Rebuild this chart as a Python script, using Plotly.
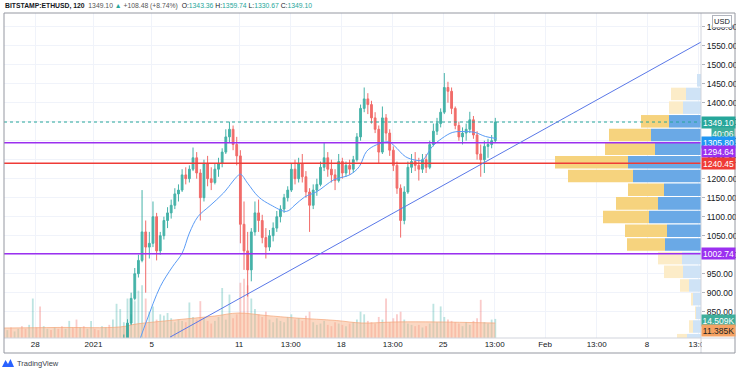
import pandas as pd
import plotly.graph_objects as go

# ---------------- data ----------------
symbol = "BITSTAMP:ETHUSD, 120"
hdr_last, hdr_chg, hdr_pct = "1349.10", "+108.48", "(+8.74%)"
hdr_o, hdr_h, hdr_l, hdr_c = "1343.36", "1359.74", "1330.67", "1349.10"

candle_start = "2021-01-02 20:00"   # 6h candles
c_open = [740, 755, 780, 820, 885, 950, 985, 1060, 1020, 1030, 1100, 1010, 1050, 1090, 1110, 1130,
          1160, 1170, 1210, 1200, 1225, 1255, 1215, 1150, 1240, 1200, 1190, 1225, 1240, 1270, 1310,
          1330, 1290, 1260, 1080, 1010, 960, 1060, 1110, 1090, 1045, 1020, 1050, 1070, 1100, 1120,
          1150, 1170, 1225, 1200, 1240, 1205, 1165, 1130, 1170, 1185, 1230, 1255, 1225, 1210, 1195,
          1245, 1215, 1235, 1225, 1250, 1310, 1385, 1410, 1395, 1360, 1330, 1270, 1360, 1320, 1275,
          1235, 1175, 1090, 1165, 1230, 1245, 1235, 1225, 1250, 1230, 1290, 1325, 1345, 1375, 1440,
          1430, 1385, 1340, 1310, 1320, 1330, 1355, 1315, 1265, 1250, 1285, 1290, 1300]
c_high = [765, 790, 830, 900, 965, 1000, 1170, 1090, 1060, 1140, 1110, 1060, 1100, 1125, 1145, 1175,
          1185, 1225, 1230, 1235, 1282, 1270, 1225, 1250, 1260, 1230, 1240, 1255, 1280, 1330, 1350,
          1340, 1310, 1275, 1140, 1060, 1070, 1140, 1145, 1105, 1070, 1065, 1085, 1115, 1130, 1160,
          1180, 1240, 1250, 1255, 1265, 1220, 1175, 1185, 1200, 1245, 1295, 1270, 1250, 1225, 1265,
          1255, 1245, 1250, 1260, 1320, 1395, 1440, 1425, 1405, 1375, 1340, 1390, 1370, 1330, 1285,
          1245, 1185, 1180, 1245, 1265, 1270, 1255, 1265, 1265, 1300, 1345, 1360, 1385, 1478, 1455,
          1440, 1390, 1350, 1335, 1345, 1376, 1365, 1325, 1290, 1300, 1305, 1315, 1360]
c_low = [730, 750, 775, 815, 880, 940, 980, 900, 990, 1020, 985, 1000, 1040, 1070, 1095, 1120,
         1140, 1165, 1185, 1190, 1220, 1200, 1090, 1140, 1180, 1170, 1185, 1205, 1230, 1265, 1295,
         1275, 1235, 1030, 960, 890, 930, 1050, 1060, 1030, 990, 1010, 1035, 1060, 1085, 1110,
         1140, 1165, 1185, 1190, 1190, 1150, 1060, 1120, 1155, 1180, 1220, 1205, 1190, 1170, 1190,
         1200, 1205, 1210, 1215, 1245, 1300, 1375, 1370, 1345, 1320, 1240, 1265, 1300, 1260, 1220,
         1160, 1045, 1080, 1160, 1215, 1220, 1195, 1215, 1215, 1225, 1285, 1315, 1335, 1370, 1400,
         1370, 1330, 1300, 1290, 1300, 1320, 1305, 1250, 1205, 1215, 1255, 1280, 1295]
c_close = [755, 780, 820, 885, 950, 985, 1060, 1020, 1030, 1100, 1010, 1050, 1090, 1110, 1130, 1160,
           1170, 1210, 1200, 1225, 1255, 1215, 1150, 1240, 1200, 1190, 1225, 1240, 1270, 1310, 1330,
           1290, 1260, 1080, 1010, 960, 1060, 1110, 1090, 1045, 1020, 1050, 1070, 1100, 1120, 1150,
           1170, 1225, 1200, 1240, 1205, 1165, 1130, 1170, 1185, 1230, 1255, 1225, 1210, 1195, 1245,
           1215, 1235, 1225, 1250, 1310, 1385, 1410, 1395, 1360, 1330, 1270, 1360, 1320, 1275, 1235,
           1175, 1090, 1165, 1230, 1245, 1235, 1225, 1250, 1230, 1290, 1325, 1345, 1375, 1440, 1430,
           1385, 1340, 1310, 1320, 1330, 1355, 1315, 1265, 1250, 1285, 1290, 1300, 1349.10]

vol_start = "2020-12-26 02:00"      # 6h volume bins, in K
volume_k = [6, 8, 5, 7, 9, 7, 10, 30, 8, 24, 9, 7, 6, 8, 7, 9, 7, 13, 8, 14, 8, 9, 7, 13,
            7, 6, 9, 8, 10, 14, 26, 22, 12, 30, 18, 28, 36, 40, 30, 20, 24, 14, 18, 17,
            19, 15, 12, 14, 13, 12, 27, 16, 14, 28, 15, 13, 11, 13, 16, 38, 14, 33, 15, 18,
            42, 45, 40, 30, 22, 18, 16, 20, 14, 12, 15, 13, 12, 16, 18, 14, 15, 13, 17, 20,
            12, 10, 11, 13, 10, 9, 12, 11, 10, 9, 11, 12, 14, 20, 18, 13, 12, 11, 16, 14,
            30, 12, 15, 18, 20, 14, 11, 10, 9, 10, 8, 9, 11, 26, 12, 24, 16, 14, 13, 12,
            11, 9, 12, 10, 13, 15, 29, 12, 11, 14, 14.509]
pre_dir = "uduudduudduududduudduduudduuduu"   # bins before the first visible candle

vol_ma_time = ["2020-12-25 20:00", "2020-12-29 12:00", "2021-01-02 20:00", "2021-01-03 22:00",
               "2021-01-06 14:00", "2021-01-09 08:00", "2021-01-10 22:00", "2021-01-12 20:00",
               "2021-01-14 22:00", "2021-01-17 16:00", "2021-01-19 10:00", "2021-01-21 18:00",
               "2021-01-24 12:00", "2021-01-28 14:00"]
vol_ma_k = [7.6, 8.0, 8.4, 10.6, 13.7, 16.7, 19.0, 17.1, 15.2, 13.3, 11.4, 12.2, 12.2, 11.385]

ma_time = ["2021-01-04 04:00", "2021-01-04 16:00", "2021-01-05 14:00", "2021-01-06 10:00",
           "2021-01-07 02:00", "2021-01-07 14:00", "2021-01-08 04:00", "2021-01-09 00:00",
           "2021-01-09 22:00", "2021-01-10 20:00", "2021-01-11 02:00", "2021-01-11 14:00",
           "2021-01-12 08:00", "2021-01-13 04:00", "2021-01-14 06:00", "2021-01-14 20:00",
           "2021-01-15 12:00", "2021-01-16 08:00", "2021-01-17 12:00", "2021-01-18 14:00",
           "2021-01-19 06:00", "2021-01-19 18:00", "2021-01-20 10:00", "2021-01-21 06:00",
           "2021-01-21 16:00", "2021-01-22 10:00", "2021-01-23 02:00", "2021-01-23 14:00",
           "2021-01-24 06:00", "2021-01-24 22:00", "2021-01-25 16:00", "2021-01-26 12:00",
           "2021-01-27 04:00", "2021-01-27 22:00", "2021-01-28 16:00"]
ma_val = [775, 828, 916, 968, 1004, 1057, 1100, 1129, 1162, 1205, 1212, 1188, 1152, 1131, 1114,
          1131, 1152, 1166, 1197, 1210, 1232, 1272, 1289, 1297, 1286, 1258, 1249, 1249, 1284,
          1306, 1322, 1324, 1322, 1311, 1305.80]

# volume profile (visible range), rows of 36 USD
vp_low = [757, 793, 829, 865, 901, 937, 973, 1009, 1045, 1081, 1117, 1153, 1189, 1225, 1261,
          1297, 1333, 1369, 1405, 1441]
vp_up = [14, 8, 5, 8, 12, 18, 19, 36, 34, 52, 43, 37, 68, 73, 46, 50, 32, 18, 15, 4]
vp_down = [10, 4, 0.5, 1.6, 9, 19, 24, 38, 42, 46, 42, 36, 65, 73, 50, 42, 28, 14, 15, 0]
vp_value_area = (1009, 1369)
vp_step = 36

level_purple = [1294.64, 1002.74]
level_red = 1240.45
last_price = 1349.10
ma_last = 1305.80
countdown = "40:06"
trend_t = ["2021-01-06 06:00", "2021-02-11 18:00"]
trend_p = [783.0, 1560.5]

x_tick_vals = ["2020-12-28", "2021-01-01", "2021-01-05", "2021-01-11", "2021-01-14 13:00",
               "2021-01-18", "2021-01-21 13:00", "2021-01-25", "2021-01-28 13:00", "2021-02-01",
               "2021-02-04 13:00", "2021-02-08", "2021-02-11 13:00"]
x_tick_text = ["28", "2021", "5", "11", "13:00", "18", "13:00", "25", "13:00", "Feb", "13:00",
               "8", "13:00"]
y_ticks = [850, 900, 950, 1000, 1050, 1100, 1150, 1200, 1250, 1300, 1350, 1400, 1450, 1500,
           1550, 1600]

# ---------------- layout helpers ----------------
W, H = 736, 372
L, R, T, B = 4, 701, 13, 338
def px(x): return (x - L) / (R - L)
def py(y): return (B - y) / (B - T)

UP, DN = "#26a69a", "#ef5350"
FONT = "Liberation Sans, Arial, sans-serif"

c_time = pd.date_range(candle_start, periods=len(c_close), freq="6h")
v_time = pd.date_range(vol_start, periods=len(volume_k), freq="6h")
v_dir = list(pre_dir) + ["u" if c >= o else "d" for o, c in zip(c_open, c_close)]
v_col = ["rgba(38,166,154,0.3)" if d == "u" else "rgba(239,83,80,0.3)" for d in v_dir]

fig = go.Figure()
fig.add_trace(go.Bar(x=v_time, y=volume_k, marker=dict(color=v_col, line=dict(width=0)),
                     width=6 * 3600 * 1000 * 0.5, xaxis="x", yaxis="y", hoverinfo="skip"))
fig.add_trace(go.Scatter(x=vol_ma_time, y=vol_ma_k, mode="lines", line=dict(color="rgba(245,165,120,0.7)", width=1, shape="spline"),
                         fill="tozeroy", fillcolor="rgba(247,178,135,0.5)", xaxis="x", yaxis="y", hoverinfo="skip"))
fig.add_trace(go.Candlestick(x=c_time, open=c_open, high=c_high, low=c_low, close=c_close,
                             xaxis="x", yaxis="y2", whiskerwidth=0, opacity=0.85,
                             increasing=dict(line=dict(color=UP, width=1), fillcolor=UP),
                             decreasing=dict(line=dict(color=DN, width=1), fillcolor=DN)))
fig.add_trace(go.Scatter(x=ma_time, y=ma_val, mode="lines", line=dict(color="#5b9cf6", width=1, shape="spline"),
                         xaxis="x", yaxis="y2"))

vp_mid = [v + vp_step / 2 for v in vp_low]
in_va = [vp_value_area[0] <= v < vp_value_area[1] for v in vp_low]
fig.add_trace(go.Bar(orientation="h", y=vp_mid, x=vp_up, base=[0] * len(vp_up), width=vp_step - 3,
                     marker=dict(color=["#6aa9e6" if f else "#cfe3f6" for f in in_va], line=dict(width=0)),
                     xaxis="x2", yaxis="y2", hoverinfo="skip"))
fig.add_trace(go.Bar(orientation="h", y=vp_mid, x=vp_down, base=vp_up, width=vp_step - 3,
                     marker=dict(color=["#f6d37e" if f else "#fcecc8" for f in in_va], line=dict(width=0)),
                     xaxis="x2", yaxis="y2", hoverinfo="skip"))

shapes = []
for lv in level_purple:
    shapes.append(dict(type="line", xref="paper", yref="y2", x0=0, x1=1, y0=lv, y1=lv,
                       line=dict(color="#9b30f0", width=1.5)))
shapes.append(dict(type="line", xref="paper", yref="y2", x0=0, x1=1, y0=level_red, y1=level_red,
                   line=dict(color="#ef3b36", width=1.5)))
shapes.append(dict(type="line", xref="paper", yref="y2", x0=0, x1=1, y0=last_price, y1=last_price,
                   line=dict(color=UP, width=1, dash="dot")))
shapes.append(dict(type="line", xref="x", yref="y2", x0=trend_t[0], y0=trend_p[0], x1=trend_t[1], y1=trend_p[1],
                   line=dict(color="#5a78e8", width=1)))
# cover clipped last time label, then frame
shapes.append(dict(type="rect", xref="paper", yref="paper", x0=px(702), x1=px(734), y0=py(352), y1=py(339),
                   fillcolor="white", line=dict(width=0), layer="above"))
shapes.append(dict(type="line", xref="paper", yref="paper", x0=px(L), x1=px(735), y0=0, y1=0,
                   line=dict(color="#d1d4dc", width=1), layer="above"))
shapes.append(dict(type="line", xref="paper", yref="paper", x0=1, x1=1, y0=py(353), y1=1,
                   line=dict(color="#d1d4dc", width=1), layer="above"))
shapes.append(dict(type="rect", xref="paper", yref="paper", x0=px(4), x1=px(735), y0=py(353), y1=py(13),
                   line=dict(color="#9598a1", width=1), layer="above"))
shapes.append(dict(type="path", xref="paper", yref="paper",
                   path=f"M {px(2)},{py(367)} L {px(5.5)},{py(360)} L {px(8)},{py(364)} L {px(10.5)},{py(359)} L {px(14)},{py(367)} Z",
                   fillcolor="#2962ff", line=dict(width=0), layer="above"))

def tag(text, y, bg, yref="y2", yshift=0, x=1.0, xanchor="left", width=33, color="white"):
    return dict(text=text, xref="paper", x=x, xanchor=xanchor, yref=yref, y=y, yanchor="middle",
                yshift=yshift, showarrow=False, bgcolor=bg, width=width, height=11, borderpad=0,
                font=dict(family=FONT, size=8.5, color=color), align="center")

g = UP
header = (f"<b>{symbol}</b>  <span style='color:#555'>{hdr_last}</span> "
          f"<span style='color:{g}'>▲</span> <span style='color:#555'>{hdr_chg} {hdr_pct}</span>  "
          f"O:<span style='color:{g}'>{hdr_o}</span> H:<span style='color:{g}'>{hdr_h}</span> "
          f"L:<span style='color:{g}'>{hdr_l}</span> C:<span style='color:{g}'>{hdr_c}</span>")
annotations = [
    dict(text=header, xref="paper", yref="paper", x=px(3), y=py(5.5), xanchor="left", yanchor="middle",
         showarrow=False, font=dict(family=FONT, size=6.8, color="#131722")),
    dict(text="TradingView", xref="paper", yref="paper", x=px(15), y=py(363.5), xanchor="left",
         yanchor="middle", showarrow=False, font=dict(family=FONT, size=7.5, color="#3a3e4a")),
    dict(text="USD", xref="paper", yref="paper", x=px(722), y=py(22), xanchor="center", yanchor="middle",
         showarrow=False, bgcolor="white", bordercolor="#b2b5be", borderwidth=1, borderpad=1,
         font=dict(family=FONT, size=7.5, color="#131722")),
    tag(f"{last_price:.2f}", last_price, UP),
    tag(countdown, last_price, "#3fae9b", yshift=-11, x=px(735), xanchor="right", width=22),
    tag(f"{ma_last:.2f}", ma_last, "#2196f3", yshift=-4),
    tag(f"{level_purple[0]:.2f}", level_purple[0], "#9b30f0", yshift=-9),
    tag(f"{level_red:.2f}", level_red, "#ef3b36"),
    tag(f"{level_purple[1]:.2f}", level_purple[1], "#9b30f0"),
    tag(f"{volume_k[-1]:.3f}K", volume_k[-1], "#3fae9b", yref="y", yshift=-2),
    tag(f"{vol_ma_k[-1]:.3f}K", vol_ma_k[-1], "#f5a263", yref="y", yshift=-7, color="#222"),
]

x_range = ["2020-12-25 20:33", "2021-02-11 16:55"]
fig.update_layout(
    width=W, height=H, margin=dict(l=L, r=W - R, t=T, b=H - B, autoexpand=False),
    paper_bgcolor="white", plot_bgcolor="white", showlegend=False, barmode="overlay",
    font=dict(family=FONT, size=8, color="#131722"),
    xaxis=dict(type="date", range=x_range, tickvals=x_tick_vals, ticktext=x_tick_text,
               showgrid=True, gridcolor="#f0f3fa", gridwidth=1, zeroline=False, showline=False,
               ticks="", tickfont=dict(size=8, color="#131722"), rangeslider=dict(visible=False),
               fixedrange=True, automargin=False),
    xaxis2=dict(overlaying="x", range=[R - L, 0], visible=False, fixedrange=True, automargin=False),
    yaxis=dict(range=[0, (B - T) * 0.76], visible=False, fixedrange=True, automargin=False),
    yaxis2=dict(overlaying="y", side="right", anchor="x", range=[780.8, 1636], tickvals=y_ticks,
                tickformat=".2f", showgrid=True, gridcolor="#f0f3fa", zeroline=False, showline=False,
                ticks="outside", ticklen=3, tickcolor="#b2b5be", tickfont=dict(size=8.5, color="#131722"),
                fixedrange=True, automargin=False),
    shapes=shapes, annotations=annotations,
)
fig.write_html("out.html", config={"displayModeBar": False},
               post_script="document.body.style.margin='0px';document.body.style.overflow='hidden';")
